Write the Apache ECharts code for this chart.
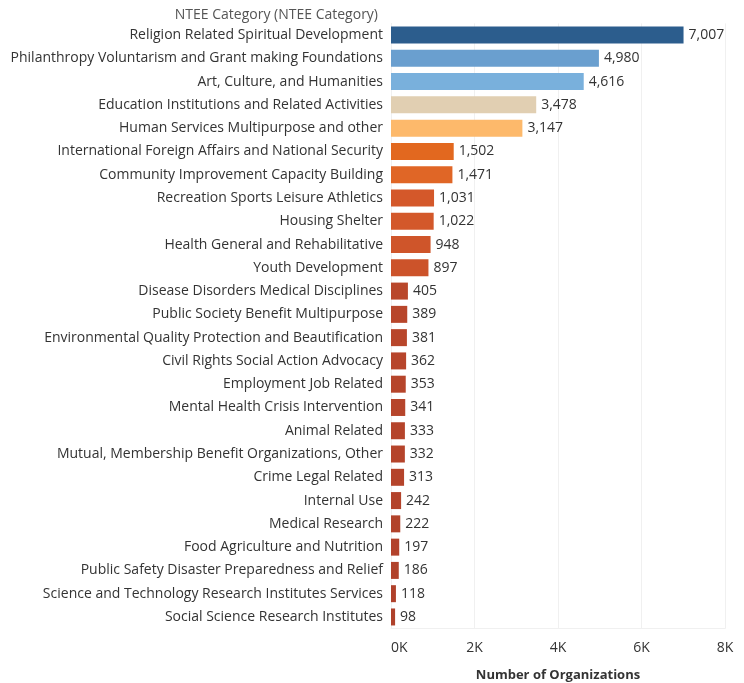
<!DOCTYPE html>
<html><head><meta charset="utf-8">
<script src="https://cdn.jsdelivr.net/npm/echarts@6/dist/echarts.min.js"></script>
<style>html,body{margin:0;padding:0;background:#fff}#c{width:744px;height:683px}</style>
</head><body><div id="c"></div>
<script>
const categories = [
 "Religion Related Spiritual Development",
 "Philanthropy Voluntarism and Grant making Foundations",
 "Art, Culture, and Humanities",
 "Education Institutions and Related Activities",
 "Human Services Multipurpose and other",
 "International Foreign Affairs and National Security",
 "Community Improvement Capacity Building",
 "Recreation Sports Leisure Athletics",
 "Housing Shelter",
 "Health General and Rehabilitative",
 "Youth Development",
 "Disease Disorders Medical Disciplines",
 "Public Society Benefit Multipurpose",
 "Environmental Quality Protection and Beautification",
 "Civil Rights Social Action Advocacy",
 "Employment Job Related",
 "Mental Health Crisis Intervention",
 "Animal Related",
 "Mutual, Membership Benefit Organizations, Other",
 "Crime Legal Related",
 "Internal Use",
 "Medical Research",
 "Food Agriculture and Nutrition",
 "Public Safety Disaster Preparedness and Relief",
 "Science and Technology Research Institutes Services",
 "Social Science Research Institutes"
];
const values = [7007,4980,4616,3478,3147,1502,1471,1031,1022,948,897,405,389,381,362,353,341,333,332,313,242,222,197,186,118,98];
const barColors = ["#2c5d8d","#6a9fcf","#79b0dc","#e1cfb2","#fdb96b","#e2681f","#e06626","#d4582a","#d3582a","#cf552a","#cc532a",
 "#b9472b","#b8462b","#b8462b","#b7452b","#b6452b","#b6452b","#b5442b","#b5442b","#b5442b","#b3432b","#b2432b","#b2422b","#b1422b","#b0412b","#af412b"];
const tickLabels = ["0K","2K","4K","6K","8K"];

const FONT = "Open Sans";
const chart = echarts.init(document.getElementById('c'));
chart.setOption({
  animation:false,
  textStyle:{fontFamily:FONT},
  grid:{left:391,right:19,top:23.4,bottom:54.4,containLabel:false,outerBoundsMode:'none'},
  title:{text:"NTEE Category (NTEE Category)",right:361,top:3,
    textStyle:{fontFamily:FONT,fontSize:14,fontWeight:'normal',color:'#555'}},
  xAxis:{type:'value',min:0,max:8000,interval:2000,
    axisLine:{show:true,lineStyle:{color:'#f0f0f0',width:1}},axisTick:{show:false},
    splitLine:{show:true,lineStyle:{color:'#f0f0f0',width:1}},
    axisLabel:{formatter:(v)=>tickLabels[v/2000],fontSize:14,color:'#333',margin:12,alignMinLabel:'left'},
    name:"Number of Organizations",nameLocation:'middle',nameGap:40,
    nameTextStyle:{fontFamily:FONT,fontSize:13,fontWeight:'bold',color:'#333'}},
  yAxis:{type:'category',data:categories,inverse:true,
    axisLine:{show:true,lineStyle:{color:'#f0f0f0'}},axisTick:{show:false},
    axisLabel:{fontSize:14,color:'#333',margin:8}},
  series:[{type:'bar',barCategoryGap:'27%',
    data:values.map((v,i)=>({value:v,itemStyle:{color:barColors[i]}})),
    label:{show:true,position:'right',distance:5,fontSize:14,color:'#333',
      formatter:(p)=>p.value.toLocaleString('en-US')}}]
});
</script></body></html>
